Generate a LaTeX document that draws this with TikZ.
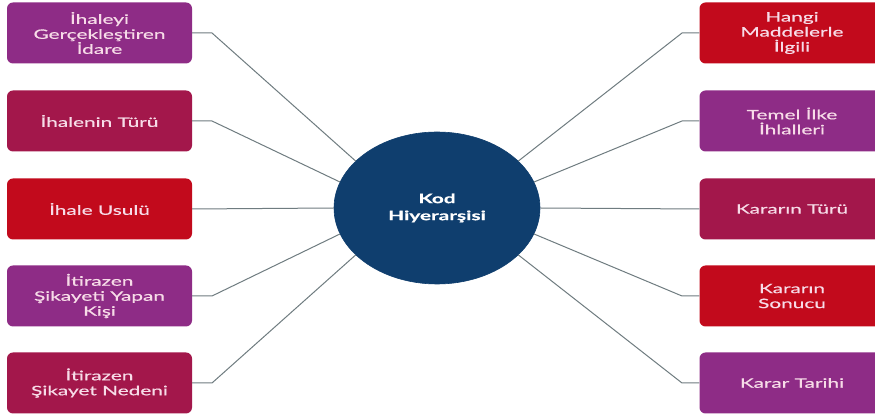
\documentclass[tikz,border=0pt]{standalone}
\usepackage{fontspec}
\setmainfont{Lato}
\newfontfamily\boxfont[FakeStretch=1.6,FakeBold=0.6]{Lato}
\usetikzlibrary{shapes.geometric}
\definecolor{kpurple}{HTML}{8E2C86}
\definecolor{kcrimson}{HTML}{A3174B}
\definecolor{kred}{HTML}{C20A1C}
\definecolor{knavy}{HTML}{0F3E6E}
\definecolor{kline}{HTML}{6F7C80}
\definecolor{ktext}{HTML}{F7DCE8}
\tikzset{
  catbox/.style={rounded corners=6pt, minimum width=185pt, minimum height=61pt,
    inner sep=2pt, align=center, text=ktext,
    font=\boxfont\fontsize{13}{15}\selectfont},
  link/.style={draw=kline, line width=1pt},
  hub/.style={ellipse, fill=knavy, draw=knavy, line width=0.6pt,
    minimum width=206pt, minimum height=152pt, text=white, align=center,
    font=\boxfont\bfseries\fontsize{13}{17}\selectfont}
}
\begin{document}
\begin{tikzpicture}[x=1pt,y=1pt]
\useasboundingbox (0,0) rectangle (875,417);
\clip (0,0) rectangle (875,417);
\fill[white] (0,0) rectangle (875,417);

% central node
\node[hub] (c) at (437,209) {Kod\\Hiyerarşisi};

% left column
\node[catbox, fill=kpurple]  (l1) at (99.5,384) {İhaleyi\\Gerçekleştiren\\İdare};
\node[catbox, fill=kcrimson] (l2) at (99.5,296) {İhalenin Türü};
\node[catbox, fill=kred]     (l3) at (99.5,208) {İhale Usulü};
\node[catbox, fill=kpurple]  (l4) at (99.5,121) {İtirazen\\Şikayeti Yapan\\Kişi};
\node[catbox, fill=kcrimson] (l5) at (99.5,34)  {İtirazen\\Şikayet Nedeni};

% right column
\node[catbox, fill=kred]     (r1) at (792,384) {Hangi\\Maddelerle\\İlgili};
\node[catbox, fill=kpurple]  (r2) at (792,296) {Temel İlke\\İhlalleri};
\node[catbox, fill=kcrimson] (r3) at (792,208) {Kararın Türü};
\node[catbox, fill=kred]     (r4) at (792,121) {Kararın\\Sonucu};
\node[catbox, fill=kpurple]  (r5) at (792,34)  {Karar Tarihi};

% elbow points
\coordinate (el1) at (212,384);
\coordinate (el2) at (212,296);
\coordinate (el4) at (212,121);
\coordinate (el5) at (212,34);
\coordinate (er1) at (682,384);
\coordinate (er2) at (682,296);
\coordinate (er4) at (682,121);
\coordinate (er5) at (682,34);

% connectors
\draw[link] (l1.east) -- (el1) -- (c.150);
\draw[link] (l2.east) -- (el2) -- (c.165);
\draw[link] (l3.east) -- (c.180);
\draw[link] (l4.east) -- (el4) -- (c.195);
\draw[link] (l5.east) -- (el5) -- (c.210);
\draw[link] (r1.west) -- (er1) -- (c.30);
\draw[link] (r2.west) -- (er2) -- (c.15);
\draw[link] (r3.west) -- (c.0);
\draw[link] (r4.west) -- (er4) -- (c.-15);
\draw[link] (r5.west) -- (er5) -- (c.-30);
\end{tikzpicture}
\end{document}
